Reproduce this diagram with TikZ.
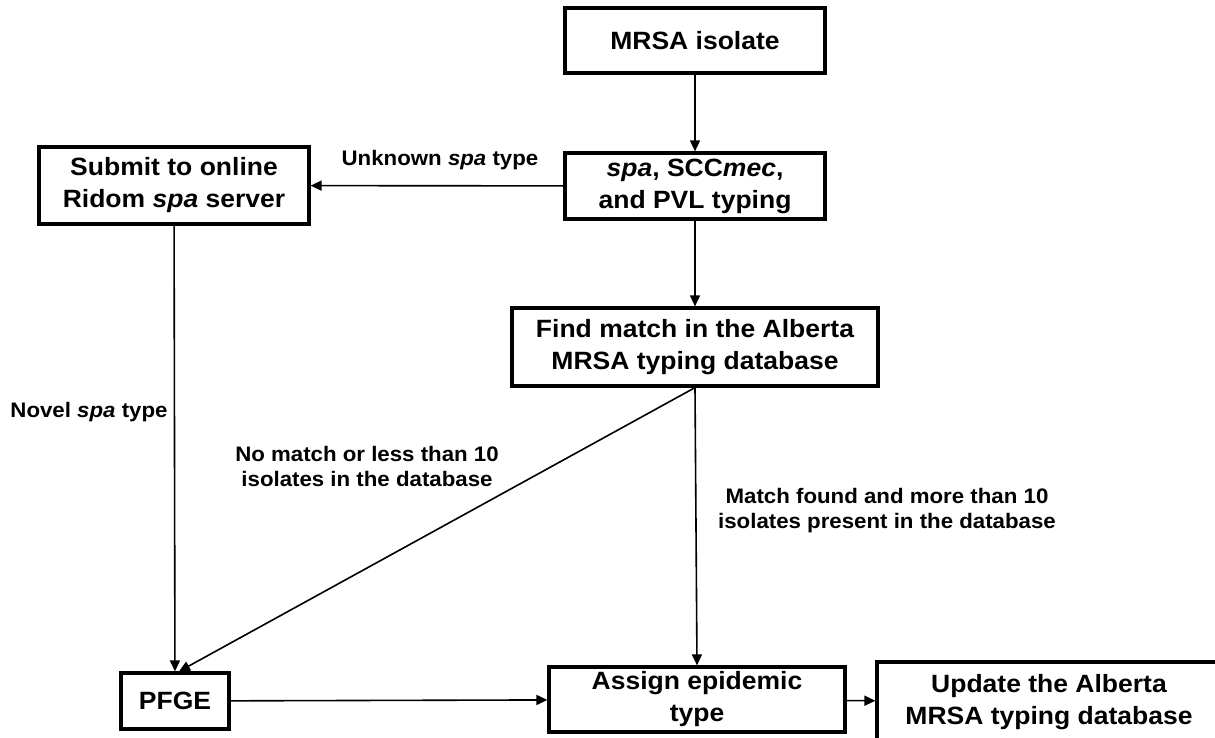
\documentclass[tikz,border=0pt]{standalone}
\usepackage{fontspec}
\setmainfont{Liberation Sans}[FakeStretch=1.06]
\usetikzlibrary{arrows.meta,positioning}

\begin{document}
\begin{tikzpicture}[
  x=1pt, y=-1pt,
  box/.style={draw, line width=3.2pt, align=center, inner sep=2pt, font=\bfseries\fontsize{25}{32}\selectfont},
  lbl/.style={align=center, inner sep=1pt, font=\bfseries\fontsize{21}{25}\selectfont},
  arrow/.style={-{Triangle[length=11pt, width=10pt]}, line width=1.6pt},
]
  \useasboundingbox (0,0) rectangle (1215,737);
  \node[box, minimum width=260pt, minimum height=65pt] (isolate) at (695,40.5) {MRSA isolate};
  \node[box, minimum width=260pt, minimum height=66pt] (typing) at (695,186) {\textit{spa}, SCC\textit{mec},\\ and PVL typing};
  \node[box, minimum width=270pt, minimum height=77pt] (ridom) at (174,185.5) {Submit to online\\ Ridom \textit{spa} server};
  \node[box, minimum width=366pt, minimum height=78pt] (match) at (695,347) {Find match in the Alberta\\ MRSA typing database};
  \node[box, minimum width=108pt, minimum height=56pt] (pfge) at (175,701) {PFGE};
  \node[box, minimum width=296pt, minimum height=65pt] (assign) at (697,699.5) {Assign epidemic\\ type};
  \node[box, minimum width=344pt, minimum height=80pt] (update) at (1049,702) {Update the Alberta\\ MRSA typing database};
  % edge labels
  \node[lbl] (unknown) at (440,160) {Unknown \textit{spa} type};
  \node[lbl] (novel) at (89,412) {Novel \textit{spa} type};
  \node[lbl] (nomatch) at (367,466) {No match or less than 10\\ isolates in the database};
  \node[lbl] (found) at (887,511) {Match found and more than 10\\ isolates present in the database};
  \draw[arrow] (isolate) -- (typing);
  \draw[arrow] (typing) -- (ridom);
  \draw[arrow] (typing) -- (match);
  \draw[arrow] (ridom) -- (pfge);
  \draw[arrow] (match.south) -- ([xshift=4pt]pfge.north);
  \draw[arrow] (match.south) -- (assign.north);
  \draw[arrow] (pfge) -- (assign);
  \draw[arrow] (assign) -- (update);
\end{tikzpicture}
\end{document}
